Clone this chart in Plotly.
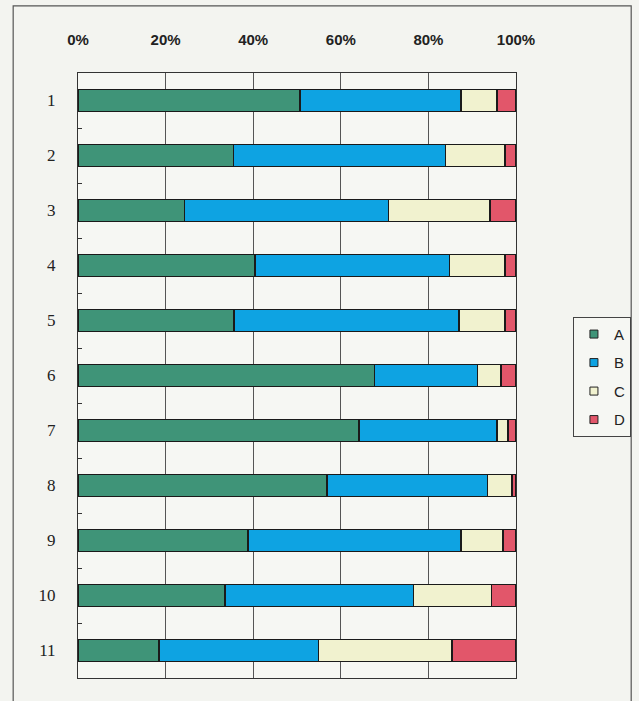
import plotly.graph_objects as go

categories = ["1", "2", "3", "4", "5", "6", "7", "8", "9", "10", "11"]
series_names = ["A", "B", "C", "D"]
a_vals = [50.7, 35.5, 24.3, 40.4, 35.6, 67.7, 64.2, 56.9, 38.8, 33.6, 18.5]
b_vals = [36.7, 48.4, 46.6, 44.4, 51.3, 23.5, 31.4, 36.6, 48.6, 43.0, 36.4]
c_vals = [8.3, 13.6, 23.1, 12.7, 10.6, 5.3, 2.6, 5.5, 9.7, 17.8, 30.4]
d_vals = [4.3, 2.5, 6.0, 2.5, 2.5, 3.5, 1.8, 1.0, 2.9, 5.6, 14.7]
tick_vals = [0, 20, 40, 60, 80, 100]
tick_text = ["0%", "20%", "40%", "60%", "80%", "100%"]

colors = ["#3f9478", "#0ea3e2", "#f1f2cf", "#e2566a"]
values = [a_vals, b_vals, c_vals, d_vals]

fig = go.Figure()
for name, vals, col in zip(series_names, values, colors):
    fig.add_trace(go.Bar(
        y=categories, x=vals, name=name, orientation="h",
        marker=dict(color=col, line=dict(color="#1a1a1a", width=1.8)),
        showlegend=False,
    ))
# legend entries with small square swatches
for name, col in zip(series_names, colors):
    fig.add_trace(go.Scatter(
        x=[None], y=[None], mode="markers", name=name,
        legendgroup=name,
        marker=dict(symbol="square", size=8, color=col,
                    line=dict(color="#222", width=1)),
    ))

fig.update_layout(
    width=639, height=701,
    barmode="stack", bargap=0.6,
    paper_bgcolor="#f3f4f0", plot_bgcolor="#f6f7f3",
    margin=dict(l=78, r=123, t=73, b=23, autoexpand=False),
    showlegend=True,
    legend=dict(
        x=1.130, y=0.597, xanchor="left", yanchor="top",
        traceorder="grouped", tracegroupgap=6,
        bgcolor="#f6f7f3", bordercolor="#444", borderwidth=1,
        font=dict(family="Liberation Sans, Arial, sans-serif", size=15, color="#222"),
        itemwidth=30,
    ),
    shapes=[dict(type="rect", xref="paper", yref="paper",
                 x0=-0.148, x1=1.263, y0=-0.05, y1=1.111,
                 line=dict(color="#555", width=1.2), fillcolor="rgba(0,0,0,0)",
                 layer="below")],
)

fig.update_xaxes(
    side="top", range=[0, 100], tickvals=tick_vals, ticktext=tick_text,
    showgrid=True, gridcolor="#555", gridwidth=1,
    showline=True, linecolor="#333", linewidth=1.2, mirror=True,
    ticks="", zeroline=False, automargin=False,
    tickfont=dict(family="Liberation Sans, Arial, sans-serif", size=15,
                  color="#222", weight="bold"),
    ticklabelstandoff=21,
)
fig.update_yaxes(
    type="category", categoryorder="array", categoryarray=categories,
    autorange="reversed", automargin=False,
    showgrid=False, showline=True, linecolor="#333", linewidth=1.2, mirror=True,
    ticks="inside", ticklen=4, tickcolor="#333", tickson="boundaries",
    tickfont=dict(family="Liberation Serif, Times New Roman, serif", size=17, color="#222"),
    ticklabelstandoff=18,
)

fig.write_html(
    "out.html",
    config={"displayModeBar": False},
    post_script="document.body.style.margin='0px';document.body.style.background='#f3f4f0';",
)
